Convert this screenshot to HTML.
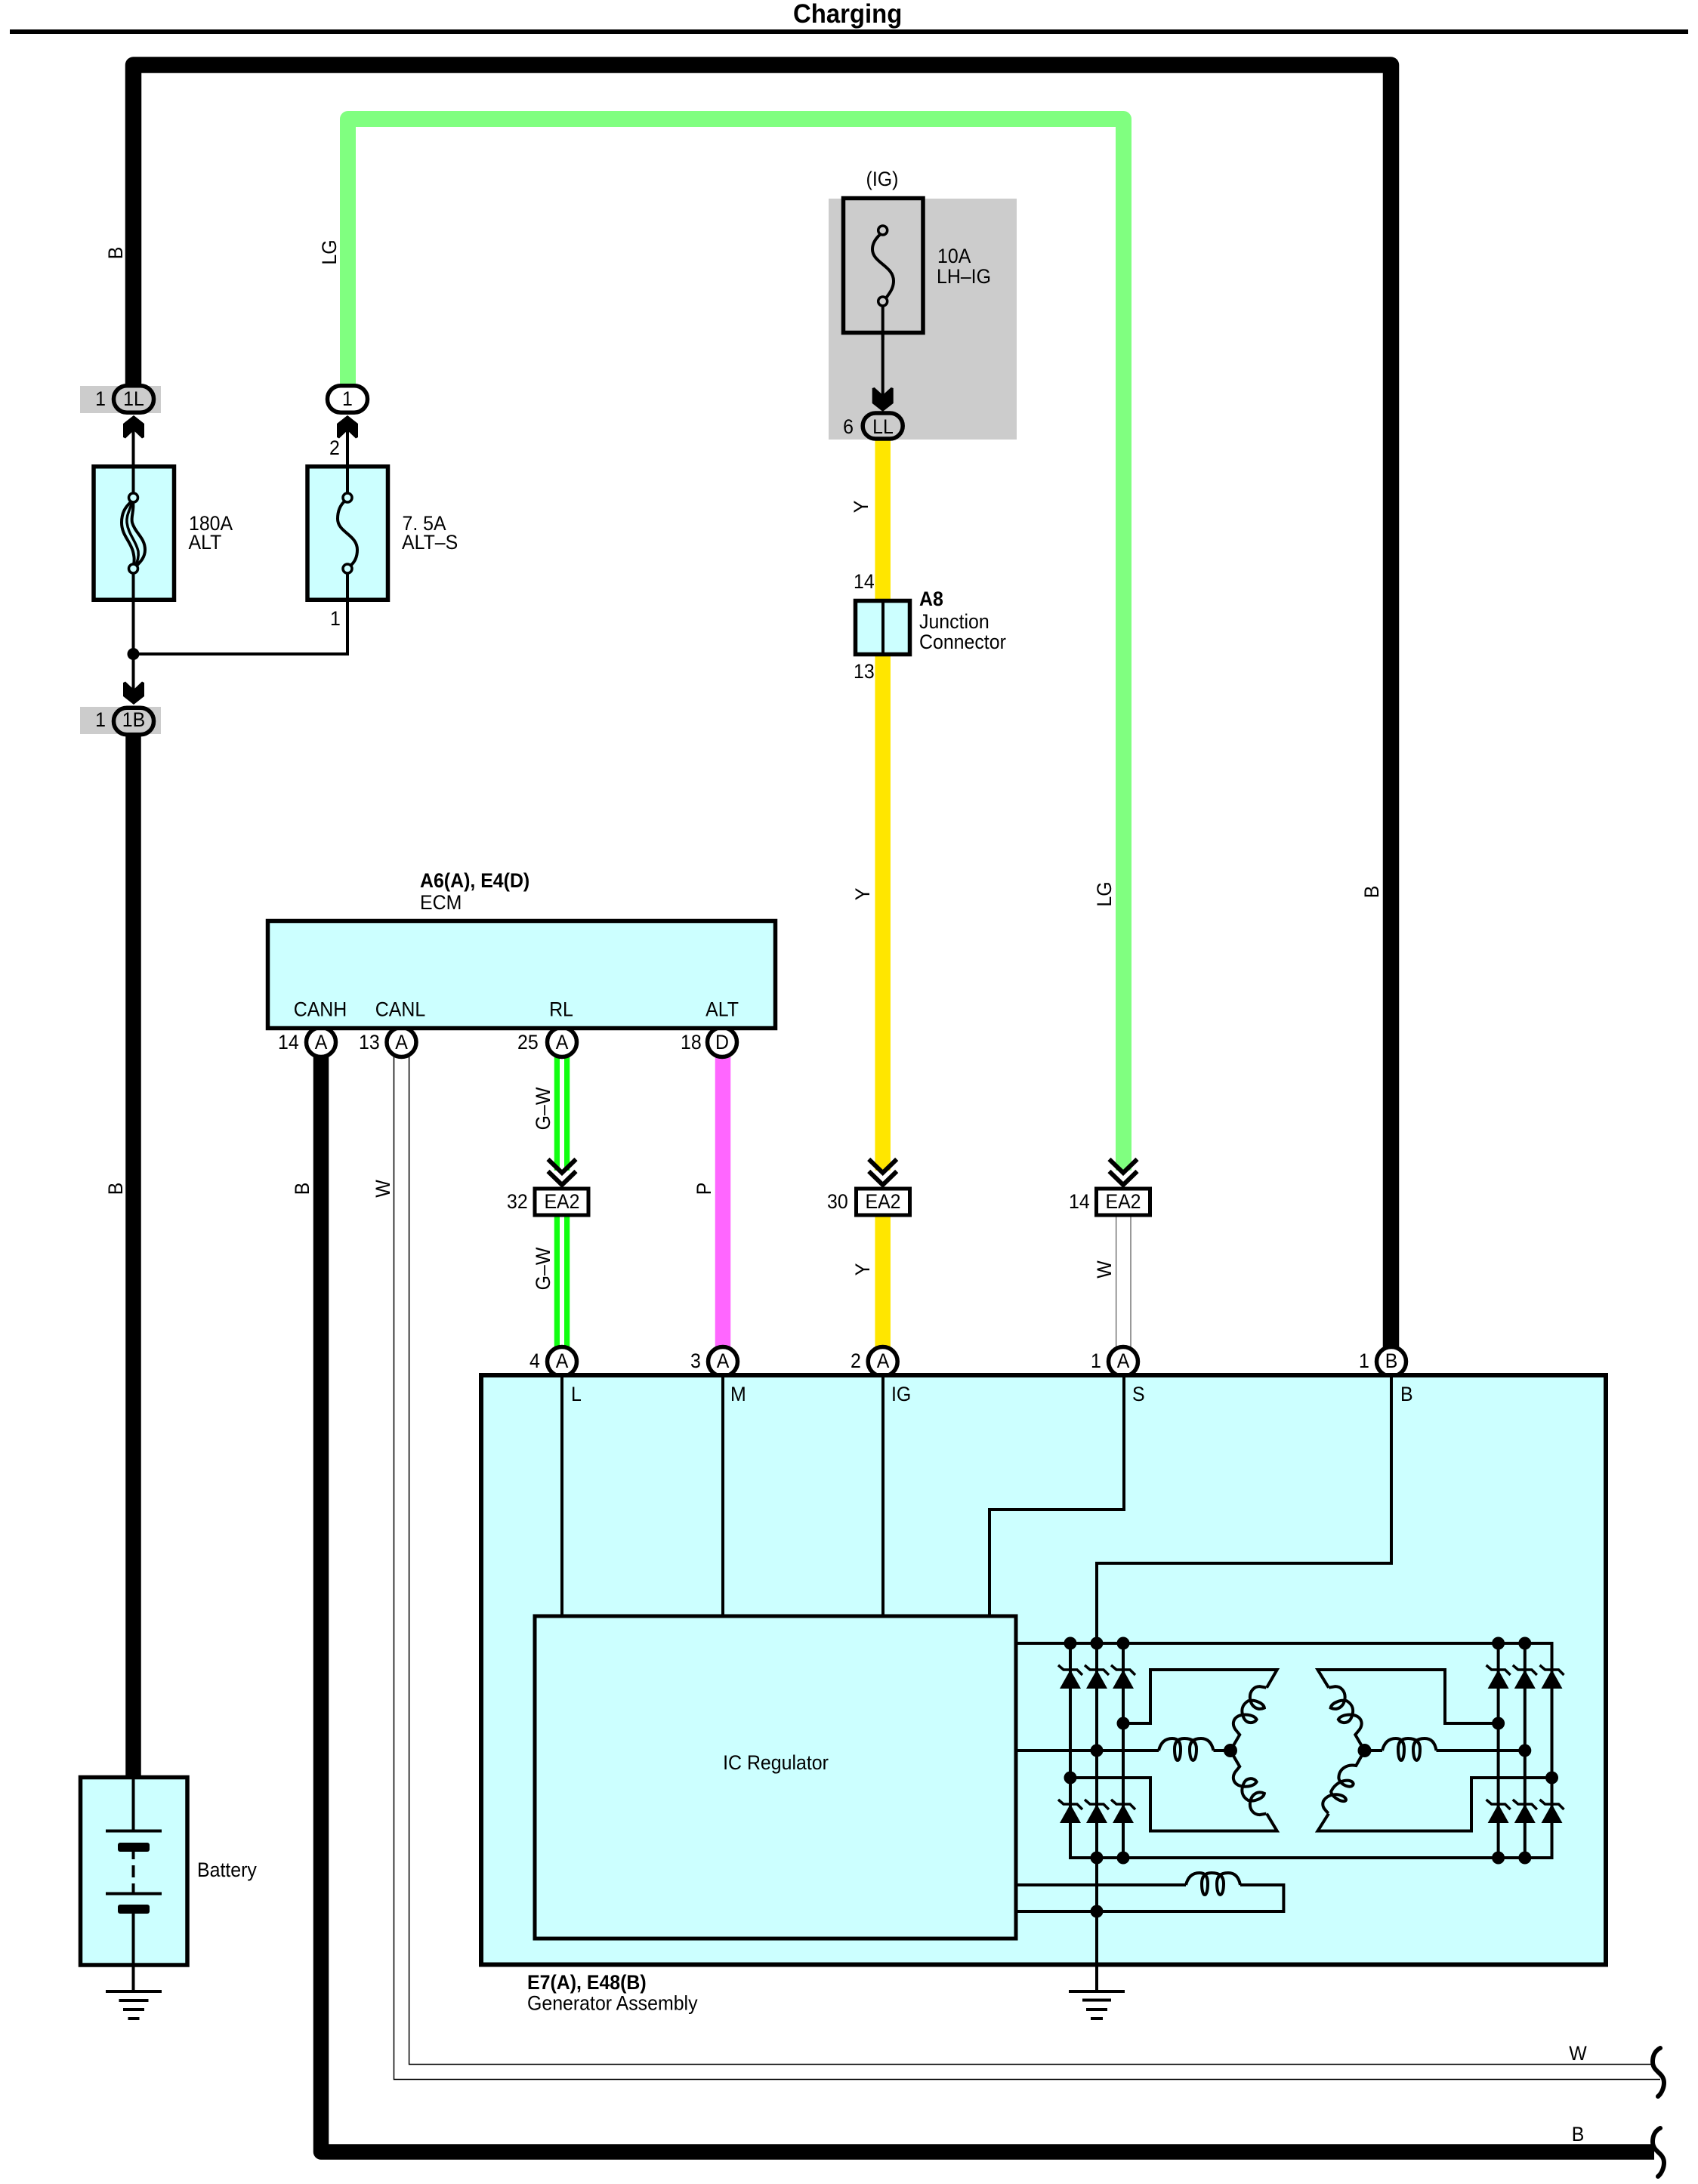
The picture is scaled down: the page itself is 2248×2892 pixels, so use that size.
<!DOCTYPE html>
<html><head><meta charset="utf-8"><title>Charging</title>
<style>
html,body{margin:0;padding:0;background:#fff}
svg{display:block}
text{font-family:"Liberation Sans",sans-serif;font-size:26.5px;fill:#000;transform-box:fill-box;transform-origin:0 50%;transform:scaleX(.94)}
.b{font-weight:bold}
.m{text-anchor:middle;transform-origin:50% 50%}
.l{fill:none;stroke:#000;stroke-width:4;stroke-linejoin:miter}
.n{fill:none;stroke:#000;stroke-width:4;vector-effect:non-scaling-stroke}
.pin{fill:#fff;stroke:#000;stroke-width:5.5}
.box{fill:#ccffff;stroke:#000;stroke-width:5.5}
.bar{stroke:#000;stroke-width:4;fill:none}
.chev{fill:none;stroke:#000;stroke-width:6}
.t{fill:none;stroke:#000;stroke-width:1.5}
</style></head><body>
<svg width="2248" height="2892" viewBox="0 0 2248 2892" xmlns="http://www.w3.org/2000/svg">
<rect width="2248" height="2892" fill="#fff"/>
<text class="b" x="1050" y="30" style="font-size:35px">Charging</text>
<rect x="13" y="39" width="2222" height="6" fill="#000"/>

<!-- gray areas -->
<rect x="106" y="511" width="107" height="36" fill="#ccc"/>
<rect x="106" y="936" width="107" height="36" fill="#ccc"/>
<rect x="1097" y="263" width="249" height="319" fill="#ccc"/>

<!-- heavy wires -->
<path d="M176.5 512V86H1841.5V1785" fill="none" stroke="#000" stroke-width="21.5" stroke-linejoin="round"/>
<path d="M460.5 509V157.5H1487.5V1550" fill="none" stroke="#80ff80" stroke-width="21" stroke-linejoin="round"/>
<path d="M176.5 970V2355" fill="none" stroke="#000" stroke-width="20.5"/>
<path d="M1168.7 583V1550M1168.7 1611V1785" fill="none" stroke="#ffe600" stroke-width="20.5"/>
<path d="M425 1398V2849.5H2190" fill="none" stroke="#000" stroke-width="20.5" stroke-linejoin="round"/>
<path d="M957 1398V1785" fill="none" stroke="#ff66ff" stroke-width="20.5"/>
<path d="M744 1398V1550M744 1611V1785" fill="none" stroke="#11ff11" stroke-width="20.5"/>
<path d="M744 1398V1550M744 1611V1785" fill="none" stroke="#fff" stroke-width="6"/>
<!-- thin white wires -->
<path d="M521.5 1398V2753.5H2198M541.6 1398V2733.5H2188" class="t"/>
<path d="M1477.7 1611V1785M1497 1611V1785" fill="none" stroke="#333" stroke-width="1"/>

<!-- squiggles -->
<path d="M2198 2712C2190 2716 2188 2724 2188 2730C2188 2744 2203 2744 2203 2758C2203 2764 2200 2772 2195 2776" fill="none" stroke="#000" stroke-width="6" stroke-linecap="round"/>
<path d="M2198 2818C2190 2822 2188 2830 2188 2836C2188 2850 2203 2850 2203 2864C2203 2870 2200 2878 2195 2882" fill="none" stroke="#000" stroke-width="6" stroke-linecap="round"/>
<text class="m" x="2089" y="2728">W</text>
<text class="m" x="2089" y="2835">B</text>

<!-- fuse feed lines -->
<path class="l" d="M176.5 565V920M460 565V866H176.5M1168.7 399V530"/>
<circle cx="176.5" cy="866" r="8"/>

<!-- solid arrows -->
<polygon points="177,550 191,561 191,579 188,580.5 177,570 166,580.5 163,579 163,561"/>
<polygon points="460,550 474,561 474,579 471,580.5 460,570 449,580.5 446,579 446,561"/>
<polygon points="177,933 191,922 191,904 188,902.5 177,913 166,902.5 163,904 163,922"/>
<polygon points="1168.7,545 1182.7,534 1182.7,514 1179.7,513 1168.7,523 1157.7,513 1154.7,514 1154.7,534"/>

<!-- pills -->
<rect x="150.5" y="510.75" width="53" height="35.5" rx="17.5" fill="#ccc" stroke="#000" stroke-width="5.5"/>
<rect x="433.5" y="510.75" width="53" height="35.5" rx="17.5" fill="#fff" stroke="#000" stroke-width="5.5"/>
<rect x="150.5" y="937.25" width="53" height="35.5" rx="17.5" fill="#ccc" stroke="#000" stroke-width="5.5"/>
<rect x="1142.2" y="547" width="53" height="34" rx="17" fill="#ccc" stroke="#000" stroke-width="5.5"/>
<text class="m" x="133" y="537">1</text><text class="m" x="177" y="537">1L</text>
<text class="m" x="460" y="537">1</text>
<text class="m" x="133" y="962">1</text><text class="m" x="177" y="962">1B</text>
<text class="m" x="1123" y="574">6</text><text class="m" x="1169" y="574">LL</text>
<text x="436" y="602">2</text><text x="437" y="828">1</text>

<!-- fuses -->
<rect class="box" x="124" y="617.75" width="106.5" height="176.5"/>
<rect class="box" x="407" y="617.75" width="106.5" height="176.5"/>
<rect x="1116.5" y="262.5" width="105.5" height="178" fill="#ccc" stroke="#000" stroke-width="5.5"/>
<!-- 180A element -->
<path d="M174 664C165 672 161 680 161 692C161 708 172 716 176 730C178 738 178 742 177 748" fill="none" stroke="#000" stroke-width="4"/>
<path d="M175 664C172 676 167 682 168 692C170 708 180 716 183 730C184 738 182 744 179 750" fill="none" stroke="#000" stroke-width="3.5"/>
<path d="M176 664C178 676 173 684 175 692C179 706 192 712 192 728C192 738 186 744 180 750" fill="none" stroke="#000" stroke-width="4"/>
<path class="l" d="M176.5 600V658M176.5 753V800M460 600V658M460 753V800"/>
<circle cx="176.5" cy="659" r="6" fill="#ccffff" stroke="#000" stroke-width="3.5"/>
<circle cx="176.5" cy="753" r="6" fill="#ccffff" stroke="#000" stroke-width="3.5"/>
<!-- 7.5A element -->
<path class="l" d="M457 663C450 669 447 677 447 687C447 705 473 708 473 728C473 737 470 744 464 749"/>
<circle cx="460" cy="659" r="6" fill="#ccffff" stroke="#000" stroke-width="3.5"/>
<circle cx="460" cy="753" r="6" fill="#ccffff" stroke="#000" stroke-width="3.5"/>
<!-- 10A element -->
<path class="l" d="M1165.7 310C1159 316 1155 322 1155 330C1155 348 1183 352 1183 372C1183 381 1178.7 387 1172.7 395"/>
<path class="l" d="M1168.7 399V450"/>
<circle cx="1168.7" cy="305" r="6" fill="#ccc" stroke="#000" stroke-width="3.5"/>
<circle cx="1168.7" cy="399" r="6" fill="#ccc" stroke="#000" stroke-width="3.5"/>
<text x="250" y="702">180A</text><text x="249.5" y="727">ALT</text>
<text x="532.5" y="702">7. 5A</text><text x="532" y="727">ALT–S</text>
<text class="m" x="1168" y="246">(IG)</text>
<text x="1241" y="348">10A</text><text x="1240" y="375">LH–IG</text>

<!-- junction connector -->
<rect class="box" x="1132.5" y="795.5" width="72" height="71"/>
<path class="l" d="M1169 795V867"/>
<text x="1130" y="779">14</text><text x="1130" y="898">13</text>
<text class="b" x="1217" y="802">A8</text>
<text x="1217" y="832">Junction</text><text x="1217" y="859">Connector</text>

<!-- rotated wire labels -->
<g transform="translate(162,335) rotate(-90)"><text class="m">B</text></g>
<g transform="translate(445,334) rotate(-90)"><text class="m">LG</text></g>
<g transform="translate(1149,671) rotate(-90)"><text class="m">Y</text></g>
<g transform="translate(1151,1184) rotate(-90)"><text class="m">Y</text></g>
<g transform="translate(1471,1184) rotate(-90)"><text class="m">LG</text></g>
<g transform="translate(1825,1181) rotate(-90)"><text class="m">B</text></g>
<g transform="translate(162,1574) rotate(-90)"><text class="m">B</text></g>
<g transform="translate(409,1574) rotate(-90)"><text class="m">B</text></g>
<g transform="translate(516,1574) rotate(-90)"><text class="m">W</text></g>
<g transform="translate(728,1468) rotate(-90)"><text class="m">G–W</text></g>
<g transform="translate(728,1680) rotate(-90)"><text class="m">G–W</text></g>
<g transform="translate(941,1574) rotate(-90)"><text class="m">P</text></g>
<g transform="translate(1151,1681) rotate(-90)"><text class="m">Y</text></g>
<g transform="translate(1471,1681) rotate(-90)"><text class="m">W</text></g>

<!-- ECM pins then box -->
<circle class="pin" cx="425" cy="1380" r="19.5"/>
<circle class="pin" cx="531.5" cy="1380" r="19.5"/>
<circle class="pin" cx="744" cy="1380" r="19.5"/>
<circle class="pin" cx="956" cy="1380" r="19.5"/>
<rect class="box" x="354.5" y="1219.5" width="672" height="142"/>
<text class="m" x="425" y="1389">A</text><text class="m" x="531.5" y="1389">A</text><text class="m" x="744" y="1389">A</text><text class="m" x="956" y="1389">D</text>
<text x="368" y="1389">14</text><text x="475" y="1389">13</text><text x="685" y="1389">25</text><text x="901" y="1389">18</text>
<text class="m" x="424" y="1345.5">CANH</text><text class="m" x="530" y="1345.5">CANL</text><text class="m" x="743" y="1345.5">RL</text><text class="m" x="956" y="1345.5">ALT</text>
<text class="b" x="556" y="1175">A6(A), E4(D)</text>
<text x="556" y="1204">ECM</text>

<!-- EA2 connectors -->
<path class="chev" d="M725.5 1535L744 1553L762.5 1535M725.5 1551L744 1569L762.5 1551"/>
<path class="chev" d="M1150.2 1535L1168.7 1553L1187.2 1535M1150.2 1551L1168.7 1569L1187.2 1551"/>
<path class="chev" d="M1468.5 1535L1487 1553L1505.5 1535M1468.5 1551L1487 1569L1505.5 1551"/>
<rect x="708" y="1574" width="71" height="35" fill="#fff" stroke="#000" stroke-width="5"/>
<rect x="1133.5" y="1574" width="71" height="35" fill="#fff" stroke="#000" stroke-width="5"/>
<rect x="1451.5" y="1574" width="71" height="35" fill="#fff" stroke="#000" stroke-width="5"/>
<text class="m" x="744" y="1600">EA2</text><text class="m" x="1169" y="1600">EA2</text><text class="m" x="1487" y="1600">EA2</text>
<text x="671" y="1600">32</text><text x="1095" y="1600">30</text><text x="1415" y="1600">14</text>

<!-- Generator pins then box -->
<circle class="pin" cx="744" cy="1803" r="19.5"/>
<circle class="pin" cx="957" cy="1803" r="19.5"/>
<circle class="pin" cx="1168.7" cy="1803" r="19.5"/>
<circle class="pin" cx="1487" cy="1803" r="19.5"/>
<circle class="pin" cx="1842" cy="1803" r="19.5"/>
<rect x="637" y="1821" width="1489" height="780.5" fill="#ccffff" stroke="#000" stroke-width="6"/>
<text class="m" x="744" y="1811">A</text><text class="m" x="957" y="1811">A</text><text class="m" x="1169" y="1811">A</text><text class="m" x="1487" y="1811">A</text><text class="m" x="1842" y="1811">B</text>
<text x="701" y="1811">4</text><text x="914" y="1811">3</text><text x="1126" y="1811">2</text><text x="1444" y="1811">1</text><text x="1799" y="1811">1</text>
<text x="756" y="1855">L</text><text x="967" y="1855">M</text><text x="1180" y="1855">IG</text><text x="1499" y="1855">S</text><text x="1854" y="1855">B</text>
<text class="b" x="698" y="2634">E7(A), E48(B)</text>
<text x="698" y="2661.5">Generator Assembly</text>

<!-- internal wiring -->
<path class="l" d="M744 1821V2140M957 1821V2140M1169 1821V2140M1488 1821V1999H1310V2140M1842 1821V2070H1452V2637"/>
<rect x="708" y="2140" width="637" height="427" fill="#ccffff" stroke="#000" stroke-width="5"/>
<text class="m" x="1027" y="2343">IC Regulator</text>

<!-- rectifier -->
<path class="l" d="M1345 2176H2054.5V2460H1417V2176M1487 2176V2460M1983.6 2176V2460M2018.8 2176V2460"/>
<path class="l" d="M1345 2318H1534M1606.5 2318H1629M1806.5 2318H1830M1901.5 2318H2018.8"/>
<path class="l" d="M1487 2282H1523V2211H1690.7L1677 2234.7"/>
<path class="l" d="M1417 2354H1523V2424.5H1690.7L1677 2401.6"/>
<path class="l" d="M1983.6 2282H1913V2211H1744.5L1759 2234.7"/>
<path class="l" d="M2054.5 2354H1948V2424.5H1744.5L1759 2401.6"/>
<path class="l" d="M1345 2496H1570M1642 2496H1699.4V2531H1345"/>
<!-- coils -->
<path class="l" d="M1534 2318Q1538 2302 1552 2302Q1563 2302 1563 2316C1563 2336 1555 2336 1555 2316Q1555 2302 1568 2302Q1584 2302 1584 2316C1584 2336 1575 2336 1575 2316Q1575 2302 1590 2302Q1603 2302 1606.5 2318"/>
<path class="l" d="M1830 2318Q1834 2302 1848 2302Q1859 2302 1859 2316C1859 2336 1851 2336 1851 2316Q1851 2302 1864 2302Q1880 2302 1880 2316C1880 2336 1871 2336 1871 2316Q1871 2302 1886 2302Q1899 2302 1901.5 2318"/>
<path class="l" d="M1570 2496Q1574 2480 1588 2480Q1599 2480 1599 2494C1599 2514 1591 2514 1591 2494Q1591 2480 1604 2480Q1620 2480 1620 2494C1620 2514 1611 2514 1611 2494Q1611 2480 1626 2480Q1639 2480 1642 2496"/>
<g transform="translate(1280,2100) scale(.5102,.3827)">
<path class="n" d="M684 570L708 515L697 497C688 480 690 460 705 450C720 442 745 445 752 462C745 478 725 478 718 455C710 430 715 410 730 398C745 392 770 405 772 422C755 432 738 420 735 390C733 365 745 348 760 348L777 352"/>
<path class="n" transform="translate(0,1140) scale(1,-1)" d="M684 570L708 515L697 497C688 480 690 460 705 450C720 442 745 445 752 462C745 478 725 478 718 455C710 430 715 410 730 398C745 392 770 405 772 422C755 432 738 420 735 390C733 365 745 348 760 348L777 352"/>
<path class="n" transform="translate(1716,0) scale(-1,1)" d="M684 570L708 515L697 497C688 480 690 460 705 450C720 442 745 445 752 462C745 478 725 478 718 455C710 430 715 410 730 398C745 392 770 405 772 422C755 432 738 420 735 390C733 365 745 348 760 348L777 352"/>
<path class="n" d="M1032 570L1010 622C985 615 965 635 965 665C968 690 1000 705 1003 685C1000 665 960 668 945 712C948 735 982 755 984 740C982 720 940 710 925 745C920 765 930 775 938 787"/>
</g>
<!-- diodes -->
<g fill="#000">
<polygon points="1417,2211 1431,2236 1403,2236"/><polygon points="1452,2211 1466,2236 1438,2236"/><polygon points="1487,2211 1501,2236 1473,2236"/>
<polygon points="1983.6,2211 1997.6,2236 1969.6,2236"/><polygon points="2018.8,2211 2032.8,2236 2004.8,2236"/><polygon points="2054.5,2211 2068.5,2236 2040.5,2236"/>
<polygon points="1417,2389 1431,2414 1403,2414"/><polygon points="1452,2389 1466,2414 1438,2414"/><polygon points="1487,2389 1501,2414 1473,2414"/>
<polygon points="1983.6,2389 1997.6,2414 1969.6,2414"/><polygon points="2018.8,2389 2032.8,2414 2004.8,2414"/><polygon points="2054.5,2389 2068.5,2414 2040.5,2414"/>
</g>
<path class="l" style="stroke-width:3.5" d="M1401 2205L1408 2211H1426L1433 2218M1436 2205L1443 2211H1461L1468 2218M1471 2205L1478 2211H1496L1503 2218M1967.6 2205L1974.6 2211H1992.6L1999.6 2218M2002.8 2205L2009.8 2211H2027.8L2034.8 2218M2038.5 2205L2045.5 2211H2063.5L2070.5 2218M1401 2383L1408 2389H1426L1433 2396M1436 2383L1443 2389H1461L1468 2396M1471 2383L1478 2389H1496L1503 2396M1967.6 2383L1974.6 2389H1992.6L1999.6 2396M2002.8 2383L2009.8 2389H2027.8L2034.8 2396M2038.5 2383L2045.5 2389H2063.5L2070.5 2396"/>
<!-- dots -->
<g fill="#000">
<circle cx="1417" cy="2176" r="8.5"/><circle cx="1452" cy="2176" r="8.5"/><circle cx="1487" cy="2176" r="8.5"/><circle cx="1983.6" cy="2176" r="8.5"/><circle cx="2018.8" cy="2176" r="8.5"/>
<circle cx="1452" cy="2460" r="8.5"/><circle cx="1487" cy="2460" r="8.5"/><circle cx="1983.6" cy="2460" r="8.5"/><circle cx="2018.8" cy="2460" r="8.5"/>
<circle cx="1487" cy="2282" r="8.5"/><circle cx="1452" cy="2318" r="8.5"/><circle cx="1417" cy="2354" r="8.5"/>
<circle cx="1983.6" cy="2282" r="8.5"/><circle cx="2018.8" cy="2318" r="8.5"/><circle cx="2054.5" cy="2354" r="8.5"/>
<circle cx="1452" cy="2531" r="8.5"/>
<circle cx="1629" cy="2318" r="9"/><circle cx="1806.5" cy="2318" r="9"/>
</g>
<!-- generator ground -->
<path class="bar" d="M1415 2637H1489M1433 2648.5H1471M1438 2661H1466M1444 2673H1460"/>

<!-- battery -->
<rect class="box" x="106.5" y="2353.5" width="141.5" height="248.5"/>
<path class="l" d="M176.5 2351V2425M176.5 2450V2462M176.5 2470V2486M176.5 2494V2508M176.5 2530V2637"/>
<path class="bar" d="M140 2424.5H214M140 2507.5H214"/>
<rect x="156" y="2440" width="42" height="12" rx="3"/>
<rect x="156" y="2522" width="42" height="12" rx="3"/>
<path class="bar" d="M140 2637H214M157.5 2649H196.5M163 2661H191M169.5 2673H184.5"/>
<text x="261" y="2485">Battery</text>
</svg>
</body></html>
